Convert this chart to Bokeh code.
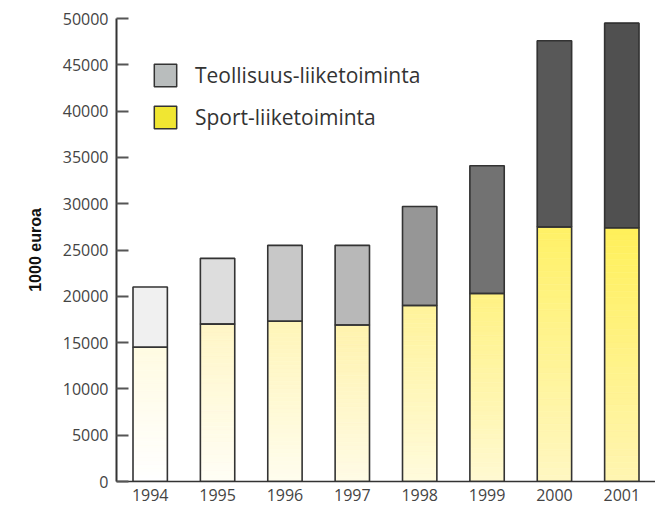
from bokeh.plotting import figure
from bokeh.models import Range1d, FixedTicker, Legend, LegendItem, ColumnDataSource
from bokeh.embed import file_html
from bokeh.resources import INLINE

# ---- data ----
years = ["1994", "1995", "1996", "1997", "1998", "1999", "2000", "2001"]
sport = [14500, 17000, 17300, 16900, 19000, 20300, 27500, 27400]
teollisuus = [6500, 7100, 8200, 8600, 10700, 13800, 20100, 22100]
y_ticks = [0, 5000, 10000, 15000, 20000, 25000, 30000, 35000, 40000, 45000, 50000]

# ---- styles ----
gray_cols = ["#f0f0f0", "#dddddd", "#c8c8c8", "#b8b8b8", "#969696", "#727272", "#585858", "#505050"]
yel_bottom = ["#ffffff", "#fffef6", "#fffdee", "#fffbe6", "#fffbdd", "#fff9d2", "#fff7c2", "#fff5b2"]
yel_top = ["#fffbe2", "#fff6c6", "#fff5b8", "#fff3ad", "#fff39a", "#fff283", "#fff166", "#fff05a"]
N = 40
BAR_W = 0.51


def hex2rgb(h):
    h = h.lstrip("#")
    return tuple(int(h[i:i + 2], 16) for i in (0, 2, 4))


def mix(a, b, t):
    ra, rb = hex2rgb(a), hex2rgb(b)
    return "#%02x%02x%02x" % tuple(int(round(ra[k] + (rb[k] - ra[k]) * t)) for k in range(3))


p = figure(frame_width=539, frame_height=463, min_border_left=116, min_border_right=0,
           min_border_top=18, min_border_bottom=28,
           x_range=Range1d(-0.5, 7.5), y_range=Range1d(0, 50000),
           output_backend="svg", toolbar_location=None, background_fill_color="white",
           border_fill_color="white", outline_line_color=None)

# gradient strips
L, R, B, T, C = [], [], [], [], []
for i in range(len(years)):
    s = sport[i]
    tot = sport[i] + teollisuus[i]
    for k in range(N):
        b0 = s * k / N
        b1 = s * (k + 1) / N
        L.append(i - BAR_W / 2); R.append(i + BAR_W / 2)
        B.append(b0); T.append(b1)
        C.append(mix(yel_bottom[i], yel_top[i], (k + 0.5) / N))
    L.append(i - BAR_W / 2); R.append(i + BAR_W / 2)
    B.append(s); T.append(tot)
    C.append(gray_cols[i])

strips = ColumnDataSource(dict(left=L, right=R, bottom=B, top=T, color=C))
p.quad(left="left", right="right", bottom="bottom", top="top", fill_color="color",
       line_color="color", line_width=0.6, source=strips)

# outlines of segments
xs = list(range(len(years)))
totals = [a + b for a, b in zip(sport, teollisuus)]
p.vbar(x=xs, width=BAR_W, bottom=0, top=sport, fill_color=None, line_color="#333333", line_width=1.6)
p.vbar(x=xs, width=BAR_W, bottom=sport, top=totals, fill_color=None, line_color="#333333", line_width=1.6)

# legend dummies (not visible in the plot area)
nan = float("nan")
r_gray = p.quad(left=[nan], right=[nan], bottom=[nan], top=[nan], fill_color="#b9bdbd",
                line_color="#333333", line_width=1.5)
r_yel = p.quad(left=[nan], right=[nan], bottom=[nan], top=[nan], fill_color="#f0e632",
               line_color="#333333", line_width=1.5)
legend = Legend(items=[LegendItem(label="Teollisuus-liiketoiminta", renderers=[r_gray]),
                       LegendItem(label="Sport-liiketoiminta", renderers=[r_yel])],
                location=(35, 350), padding=0, margin=0, spacing=14,
                glyph_width=28, glyph_height=28, label_standoff=16,
                label_text_font="Open Sans", label_text_font_size="21px", label_text_color="#333333",
                border_line_color=None, background_fill_alpha=0)
p.add_layout(legend, "center")

p.xgrid.grid_line_color = None
p.ygrid.grid_line_color = None

p.xaxis.ticker = FixedTicker(ticks=xs)
p.xaxis.major_label_overrides = {i: y for i, y in enumerate(years)}
p.xaxis.major_tick_in = 0
p.xaxis.major_tick_out = 0
p.xaxis.minor_tick_line_color = None
p.xaxis.axis_line_color = "#333333"
p.xaxis.axis_line_width = 1.6
p.xaxis.major_label_standoff = 7
p.xaxis.major_label_text_font = "Open Sans"
p.xaxis.major_label_text_font_size = "16px"
p.xaxis.major_label_text_color = "#444444"

p.yaxis.ticker = FixedTicker(ticks=y_ticks)
p.yaxis.major_tick_in = 12
p.yaxis.major_tick_out = 0
p.yaxis.major_tick_line_color = "#555555"
p.yaxis.major_tick_line_width = 2
p.yaxis.minor_tick_line_color = None
p.yaxis.axis_line_color = "#333333"
p.yaxis.axis_line_width = 2
p.yaxis.major_label_standoff = 8
p.yaxis.major_label_text_font = "Open Sans"
p.yaxis.major_label_text_font_size = "16px"
p.yaxis.major_label_text_color = "#444444"
p.yaxis.axis_label = "1000 euroa"
p.yaxis.axis_label_text_font = "Liberation Sans"
p.yaxis.axis_label_text_font_style = "bold"
p.yaxis.axis_label_text_font_size = "16px"
p.yaxis.axis_label_text_color = "#111111"
p.yaxis.axis_label_standoff = 16

open("out.html", "w").write(file_html(p, INLINE))
